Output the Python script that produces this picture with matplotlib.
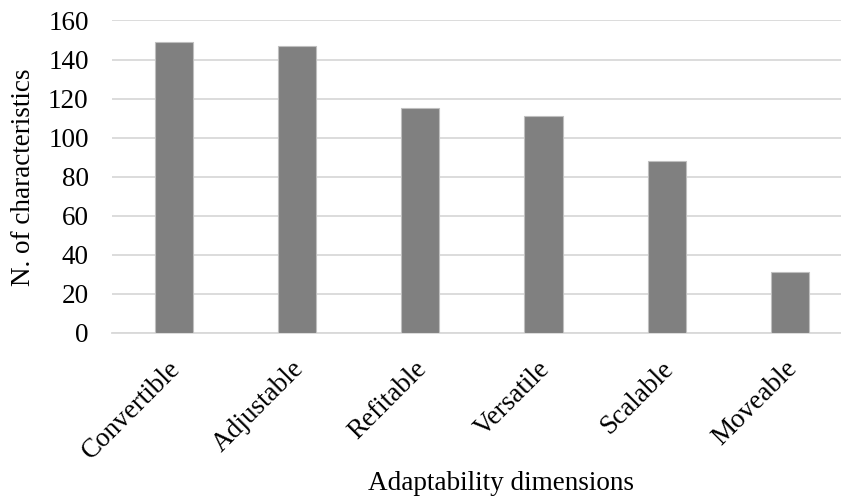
import matplotlib
matplotlib.use("Agg")
import matplotlib.pyplot as plt
import matplotlib.transforms as mtransforms
import numpy as np

# Данные
dimensions = ['Convertible', 'Adjustable', 'Refitable', 'Versatile', 'Scalable', 'Moveable']
n_characteristics = [149, 147, 115, 111, 88, 31]
y_ticks = [0, 20, 40, 60, 80, 100, 120, 140, 160]

plt.rcParams['font.family'] = ['Liberation Serif', 'DejaVu Serif']

fig = plt.figure(figsize=(8.41, 5.0), dpi=100)
# область графика выходит за правый край, как на исходной картинке
ax = fig.add_axes([0.1335, 0.334, 0.8792, 0.625])

x = np.arange(len(dimensions))
ax.bar(x, n_characteristics, width=0.31, color='#808080', edgecolor='#bfbfbf', linewidth=0.8, zorder=3)

ax.set_xlim(-0.5, len(dimensions) - 0.5)
ax.set_ylim(0, 160)
ax.set_yticks(y_ticks)
ax.yaxis.grid(True, color='#d9d9d9', linewidth=1.3, zorder=0)

for side in ['top', 'right', 'left']:
    ax.spines[side].set_visible(False)
ax.spines['bottom'].set_color('#d9d9d9')
ax.spines['bottom'].set_linewidth(1.3)

ax.tick_params(axis='y', length=0, pad=17, labelsize=19.5)
ax.tick_params(axis='x', length=0, pad=23, labelsize=19.5)

ax.set_xticks(x)
ax.set_xticklabels(dimensions, rotation=45, ha='right', va='center', rotation_mode='anchor')
offset = mtransforms.ScaledTranslation(3 / 100, 0, fig.dpi_scale_trans)
for lbl in ax.get_xticklabels():
    lbl.set_transform(lbl.get_transform() + offset)

ax.set_ylabel('N. of characteristics', fontsize=19.5)
ax.yaxis.set_label_coords(-0.103, 0.5)
ax.set_xlabel('Adaptability dimensions', fontsize=19.5)
ax.xaxis.set_label_coords(0.526, -0.44)

fig.savefig('out.png', dpi=100)
